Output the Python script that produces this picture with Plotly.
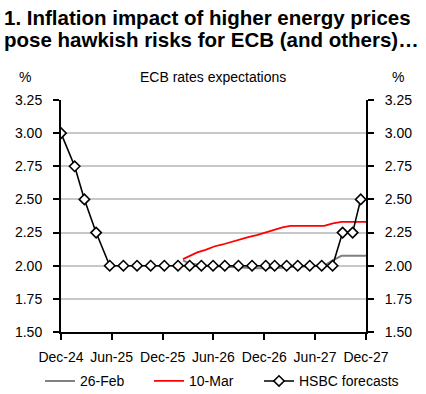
import plotly.graph_objects as go

# ---------------- data ----------------
hsbc_dates = ["2024-12-12", "2025-01-30", "2025-03-06", "2025-04-17", "2025-06-05",
              "2025-07-24", "2025-09-11", "2025-10-30", "2025-12-18", "2026-02-05",
              "2026-03-19", "2026-04-30", "2026-06-11", "2026-07-23", "2026-09-10",
              "2026-10-29", "2026-12-17", "2027-01-18", "2027-03-02", "2027-04-11",
              "2027-05-24", "2027-07-06", "2027-08-14", "2027-09-19", "2027-10-25",
              "2027-11-23"]
hsbc_values = [3.00, 2.75, 2.50, 2.25, 2.00,
               2.00, 2.00, 2.00, 2.00, 2.00,
               2.00, 2.00, 2.00, 2.00, 2.00,
               2.00, 2.00, 2.00, 2.00, 2.00,
               2.00, 2.00, 2.00, 2.25, 2.25,
               2.50]

curve_dates = ["2026-02-23", "2026-03-15", "2026-04-15", "2026-05-15", "2026-06-15",
               "2026-07-15", "2026-08-15", "2026-09-15", "2026-10-15", "2026-11-15",
               "2026-12-15", "2027-01-15", "2027-02-15", "2027-03-15", "2027-04-15",
               "2027-05-15", "2027-06-15", "2027-07-15", "2027-08-15", "2027-09-15",
               "2027-10-15", "2027-11-15", "2027-12-12"]
feb26_values = [2.04, 2.02, 2.01, 2.00, 2.00,
                1.99, 1.99, 1.985, 1.98, 1.98,
                1.98, 1.98, 1.985, 1.99, 1.99,
                1.995, 2.00, 2.00, 2.04, 2.075,
                2.075, 2.075, 2.075]
mar10_values = [2.05, 2.07, 2.10, 2.12, 2.145,
                2.16, 2.18, 2.20, 2.215, 2.23,
                2.25, 2.265, 2.29, 2.30, 2.30,
                2.30, 2.30, 2.30, 2.32, 2.33,
                2.33, 2.33, 2.33]

x_tick_vals = ["2024-12-12", "2025-06-12", "2025-12-12", "2026-06-12",
               "2026-12-12", "2027-06-12", "2027-12-12"]
x_tick_text = ["Dec-24", "Jun-25", "Dec-25", "Jun-26", "Dec-26", "Jun-27", "Dec-27"]
y_ticks = [1.50, 1.75, 2.00, 2.25, 2.50, 2.75, 3.00, 3.25]
y_tick_text = ["1.50", "1.75", "2.00", "2.25", "2.50", "2.75", "3.00", "3.25"]

series_names = ["26-Feb", "10-Mar", "HSBC forecasts"]

title_line1 = "1. Inflation impact of higher energy prices"
title_line2 = "pose hawkish risks for ECB (and others)\u2026"
subtitle = "ECB rates expectations"

# ---------------- layout helpers ----------------
W, H = 426, 394
L, R, T, B = 61, 366, 99.6, 332.5
FONT = "Liberation Sans, Arial, sans-serif"


def px(xp):
    return (xp - L) / (R - L)


def py(yp):
    return (B - yp) / (B - T)


fig = go.Figure()
fig.add_trace(go.Scatter(x=curve_dates, y=feb26_values, mode="lines", name=series_names[0],
                         line=dict(color="#808080", width=2), legend="legend"))
fig.add_trace(go.Scatter(x=curve_dates, y=mar10_values, mode="lines", name=series_names[1],
                         line=dict(color="#ff0000", width=1.8), legend="legend2"))
fig.add_trace(go.Scatter(x=hsbc_dates, y=hsbc_values, mode="lines+markers", name=series_names[2],
                         line=dict(color="#000000", width=1.6),
                         marker=dict(symbol="diamond", size=8, color="#ffffff",
                                     line=dict(color="#000000", width=1.6)),
                         legend="legend3"))
# invisible trace to anchor right axis
fig.add_trace(go.Scatter(x=[hsbc_dates[0]], y=[hsbc_values[0]], yaxis="y2", mode="markers",
                         marker=dict(opacity=0), showlegend=False, hoverinfo="skip"))

yaxis_common = dict(range=[1.5, 3.25], tickvals=y_ticks, ticktext=y_tick_text,
                    showline=True, linecolor="#000000", linewidth=2,
                    ticks="outside", ticklen=6, tickwidth=2, tickcolor="#000000",
                    tickfont=dict(family=FONT, size=14, color="#000000"),
                    zeroline=False, fixedrange=True)


def legend_at(xpix):
    return dict(orientation="h", x=px(xpix), xanchor="left", y=py(366), yanchor="top",
                font=dict(family=FONT, size=14, color="#000000"),
                bgcolor="rgba(0,0,0,0)")


fig.update_layout(
    width=W, height=H,
    margin=dict(l=L, r=W - R, t=T, b=H - B, pad=0, autoexpand=False),
    paper_bgcolor="#ffffff", plot_bgcolor="#ffffff",
    font=dict(family=FONT, size=14, color="#000000"),
    xaxis=dict(type="date", range=["2024-12-12", "2027-12-12"],
               tickvals=x_tick_vals, ticktext=x_tick_text,
               showline=True, linecolor="#000000", linewidth=2,
               ticks="outside", ticklen=6, tickwidth=2, tickcolor="#000000",
               showgrid=False, zeroline=False, ticklabelstandoff=5,
               tickfont=dict(family=FONT, size=14, color="#000000")),
    yaxis=dict(**yaxis_common, showgrid=True, gridcolor="#c8c8c8", gridwidth=2,
               side="left", ticklabelstandoff=8),
    yaxis2=dict(**yaxis_common, showgrid=False, overlaying="y", side="right",
                anchor="x", ticklabelstandoff=8),
    showlegend=True,
    legend=legend_at(40),
    legend2=legend_at(149),
    legend3=legend_at(259),
    annotations=[
        dict(text="<b>" + title_line1 + "</b>", xref="paper", yref="paper",
             x=px(2), y=py(17), xanchor="left", yanchor="middle", showarrow=False,
             font=dict(family=FONT, size=20.5, color="#000000")),
        dict(text="<b>" + title_line2 + "</b>", xref="paper", yref="paper",
             x=px(2), y=py(39), xanchor="left", yanchor="middle", showarrow=False,
             font=dict(family=FONT, size=20.5, color="#000000")),
        dict(text=subtitle, xref="paper", yref="paper", x=px(213), y=py(77),
             xanchor="center", yanchor="middle", showarrow=False,
             font=dict(family=FONT, size=14, color="#000000")),
        dict(text="%", xref="paper", yref="paper", x=px(25), y=py(77),
             xanchor="center", yanchor="middle", showarrow=False,
             font=dict(family=FONT, size=14, color="#000000")),
        dict(text="%", xref="paper", yref="paper", x=px(398), y=py(77),
             xanchor="center", yanchor="middle", showarrow=False,
             font=dict(family=FONT, size=14, color="#000000")),
    ],
)

fig.write_html("out.html", config={"displayModeBar": False},
               post_script="document.body.style.margin='0px';")
